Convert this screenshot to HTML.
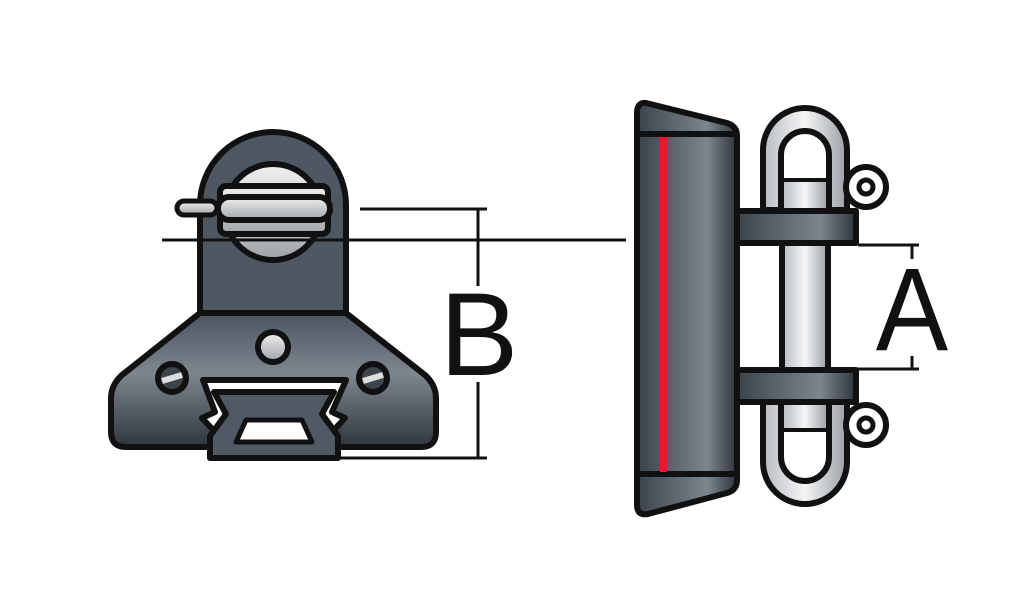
<!DOCTYPE html>
<html><head><meta charset="utf-8"><style>html,body{margin:0;padding:0;background:#fff}svg{display:block}</style></head>
<body>
<svg width="1024" height="604" viewBox="0 0 1024 604" xmlns="http://www.w3.org/2000/svg">
<defs>
<linearGradient id="gb" x1="0" y1="0" x2="0" y2="1">
<stop offset="0" stop-color="#4a5560"/><stop offset="0.45" stop-color="#7e868f"/><stop offset="1" stop-color="#2f353c"/>
</linearGradient>
<linearGradient id="gh" x1="0" y1="0" x2="1" y2="0">
<stop offset="0" stop-color="#3a424b"/><stop offset="0.7" stop-color="#7d858e"/><stop offset="1" stop-color="#2e343a"/>
</linearGradient>
<linearGradient id="gm" x1="0" y1="0" x2="1" y2="0">
<stop offset="0" stop-color="#b8bcc0"/><stop offset="0.5" stop-color="#f4f5f6"/><stop offset="1" stop-color="#9a9fa4"/>
</linearGradient>
<linearGradient id="gp" x1="0" y1="0" x2="0" y2="1">
<stop offset="0" stop-color="#f0f0f0"/><stop offset="1" stop-color="#a0a4a8"/>
</linearGradient>
</defs>
<g stroke="#111" stroke-width="6" stroke-linejoin="round">
<!-- tower -->
<path d="M200 313 V205 A73 73 0 0 1 346 205 V313 Z" fill="#4d5863"/>
<circle cx="273" cy="212" r="48" fill="url(#gp)"/>
<rect x="220" y="186" width="108" height="48" rx="6" fill="url(#gp)"/>
<rect x="177" y="201" width="40" height="14" rx="7" fill="url(#gp)" stroke-width="5"/>
<rect x="218" y="197" width="112" height="23" rx="11" fill="url(#gp)"/>
<!-- base -->
<path d="M200 313 H346 L425 375 Q436 385 436 398 V432 Q436 447 421 447 H337 L332 432 L345 418 L332 412 L346 380 H203 L215 412 L202 418 L215 432 L210 447 H126 Q111 447 111 432 V398 Q111 385 122 375 Z" fill="url(#gb)"/>
<circle cx="273" cy="347" r="15" fill="url(#gp)"/>
<circle cx="172" cy="378" r="14" fill="#3c444c"/>
<circle cx="373" cy="378" r="14" fill="#3c444c"/>
<!-- slot track -->
<path d="M214 392 H334 L322 414 L338 436 V458 H210 V436 L226 414 Z" fill="#4f5a64"/>
<path d="M246 420 H302 L312 442 H236 Z" fill="#fff" stroke-width="5"/>
</g>
<path d="M212 386 H336" stroke="#fff" stroke-width="2"/>
<g stroke="#111" stroke-width="3">
<line x1="162" y1="381" x2="182" y2="375" stroke="#ddd" stroke-width="6"/>
<line x1="363" y1="381" x2="383" y2="375" stroke="#ddd" stroke-width="6"/>
</g>
<!-- right bar -->
<g stroke="#111" stroke-width="6" stroke-linejoin="round">
<path d="M763 210 V150 A42 42 0 0 1 847 150 V210 Z" fill="url(#gm)"/>
<path d="M781 210 V155 A24 24 0 0 1 829 155 V210 Z" fill="#fff"/>
<rect x="782" y="180" width="46" height="30" fill="url(#gm)" stroke-width="4"/>
<path d="M763 400 V462 A42 42 0 0 0 847 462 V400 Z" fill="url(#gm)"/>
<path d="M781 400 V457 A24 24 0 0 0 829 457 V400 Z" fill="#fff"/>
<rect x="782" y="400" width="46" height="30" fill="url(#gm)" stroke-width="4"/>
<rect x="782" y="242" width="46" height="130" fill="url(#gm)"/>
<circle cx="866" cy="187" r="20" fill="#fff"/>
<circle cx="866" cy="187" r="7" fill="#fff" stroke-width="5"/>
<circle cx="866" cy="425" r="20" fill="#fff"/>
<circle cx="866" cy="425" r="7" fill="#fff" stroke-width="5"/>
<rect x="736" y="211" width="120" height="32" fill="url(#gh)"/>
<rect x="736" y="370" width="120" height="32" fill="url(#gh)"/>
<path d="M646 103 L727 123 Q737 126 737 136 V480 Q737 490 727 493 L648 514 Q637 516 637 505 V113 Q637 102 646 103 Z" fill="url(#gh)"/>
<line x1="637" y1="134" x2="737" y2="134"/>
<line x1="637" y1="474" x2="737" y2="474"/>
</g>
<rect x="660" y="137" width="7" height="335" fill="#e8192c"/>
<!-- dimensions -->
<g stroke="#111" stroke-width="3" fill="none">
<line x1="162" y1="240" x2="626" y2="240"/>
<line x1="360" y1="209" x2="487" y2="209"/>
<line x1="478" y1="209" x2="478" y2="286"/>
<line x1="478" y1="382" x2="478" y2="458"/>
<line x1="337" y1="458" x2="487" y2="458"/>
<line x1="858" y1="245" x2="919" y2="245"/>
<line x1="912" y1="245" x2="912" y2="259"/>
<line x1="858" y1="369" x2="919" y2="369"/>
<line x1="912" y1="356" x2="912" y2="369"/>
</g>
<text x="479" y="375" font-family="Liberation Sans, sans-serif" font-size="118" text-anchor="middle" fill="#111">B</text>
<text x="912" y="350" font-family="Liberation Sans, sans-serif" font-size="118" text-anchor="middle" fill="#111" transform="translate(912 0) scale(0.92 1) translate(-912 0)">A</text>
</svg>
</body></html>
